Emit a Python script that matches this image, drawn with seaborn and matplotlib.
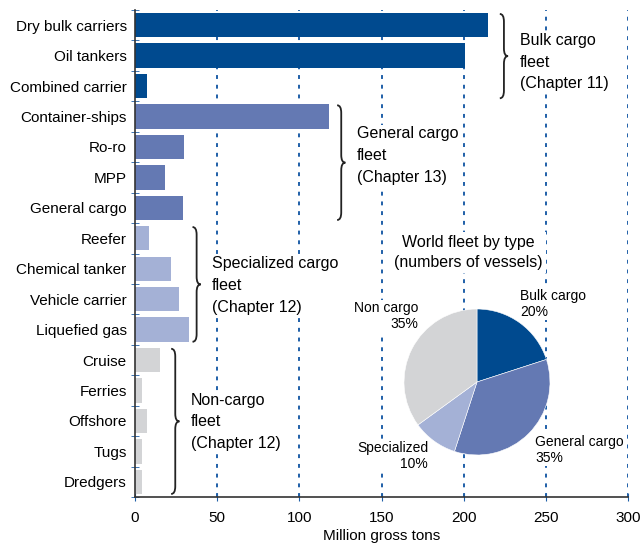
import numpy as np
import pandas as pd
import matplotlib
matplotlib.use("Agg")
import matplotlib.pyplot as plt
from matplotlib.path import Path
from matplotlib.patches import PathPatch
import seaborn as sns

# Datos
categorias = ["Dry bulk carriers", "Oil tankers", "Combined carrier",
              "Container-ships", "Ro-ro", "MPP", "General cargo",
              "Reefer", "Chemical tanker", "Vehicle carrier", "Liquefied gas",
              "Cruise", "Ferries", "Offshore", "Tugs", "Dredgers"]
toneladas = [215, 201, 7, 118, 30, 18, 29, 8.5, 22, 26.5, 33, 15, 4.5, 7.5, 4, 4]
grupos = ["bulk"] * 3 + ["general"] * 4 + ["special"] * 4 + ["non"] * 5

grupo_textos = ["Bulk cargo\nfleet\n(Chapter 11)",
                "General cargo\nfleet\n(Chapter 13)",
                "Specialized cargo\nfleet\n(Chapter 12)",
                "Non-cargo\nfleet\n(Chapter 12)"]

pie_etiquetas = ["Bulk cargo\n20%", "General cargo\n35%", "Specialized\n10%", "Non cargo\n35%"]
pie_valores = [20, 35, 10, 35]

colores = {"bulk": "#004a8f", "general": "#6479b3", "special": "#a4b1d6", "non": "#d3d4d6"}
azul = "#1f5fa8"

df = pd.DataFrame({"cat": categorias, "val": toneladas, "grupo": grupos})

plt.rcParams["font.family"] = ["Liberation Sans", "DejaVu Sans"]
fig = plt.figure(figsize=(6.43, 5.47), dpi=100)
ax = fig.add_axes([135 / 643, 1 - 497 / 547, 493 / 643, 487 / 547])

sns.barplot(data=df, x="val", y="cat", hue="grupo", palette=colores, dodge=False,
            legend=False, width=0.8, ax=ax, saturation=1, zorder=2)

ax.set_xlim(0, 300)
ax.set_ylim(15.5, -0.5)
ax.set_xticks(np.arange(0, 301, 50))
ax.set_xlabel("Million gross tons", fontsize=11, labelpad=3)
ax.set_ylabel("")
ax.tick_params(axis="x", direction="inout", length=6, color=azul, labelsize=11, pad=7)
ax.tick_params(axis="y", which="major", length=0, labelsize=11, pad=6)
ax.set_yticks(np.arange(-0.5, 16, 1), minor=True)
ax.tick_params(axis="y", which="minor", direction="inout", length=6, color=azul)
for s in ["top", "right"]:
    ax.spines[s].set_visible(False)
for s in ["left", "bottom"]:
    ax.spines[s].set_color("#333333")
    ax.spines[s].set_linewidth(1.2)

# rejilla punteada
for xv in range(50, 301, 50):
    ax.axvline(xv, color=azul, linestyle=(0, (2, 3)), linewidth=1.4, zorder=1)


def llave(ax, x, y0, y1, w, r=0.25):
    ym = (y0 + y1) / 2
    xm = x + w / 2
    verts = [(x, y0), (xm, y0), (xm, y0 + r), (xm, ym - r), (xm, ym), (x + w, ym),
             (xm, ym), (xm, ym + r), (xm, y1 - r), (xm, y1), (x, y1)]
    codes = [Path.MOVETO, Path.CURVE3, Path.CURVE3, Path.LINETO, Path.CURVE3, Path.CURVE3,
             Path.CURVE3, Path.CURVE3, Path.LINETO, Path.CURVE3, Path.CURVE3]
    ax.add_patch(PathPatch(Path(verts, codes), fill=False, lw=1.3, color="#222222", zorder=4))


llave_x = [222, 123, 35, 22]
inicio = [0, 3, 7, 11]
fin = [2, 6, 10, 15]
texto_y = [1.22, 4.28, 8.55, 13.03]
for bx, a, b, ty, txt in zip(llave_x, inicio, fin, texto_y, grupo_textos):
    llave(ax, bx, a - 0.37, b + 0.4, 5)
    ax.text(bx + 12, ty, txt, fontsize=11.5, va="center", ha="left",
            linespacing=1.55, zorder=5,
            bbox=dict(facecolor="white", edgecolor="none", pad=1))

# titulo del pastel
ax.text(203, 7.47, "World fleet by type\n(numbers of vessels)", fontsize=11.5, ha="center",
        va="center", linespacing=1.45, zorder=5,
        bbox=dict(facecolor="white", edgecolor="none", pad=2))

# pastel
pax = fig.add_axes([(477 - 76) / 643, 1 - (382 + 76) / 547, 152 / 643, 152 / 547])
pax.pie(pie_valores, colors=[colores[g] for g in ["bulk", "general", "special", "non"]],
        startangle=90, counterclock=False, radius=73 / 76,
        wedgeprops=dict(edgecolor="white", linewidth=0.4))
pax.set_aspect("equal")
pax.set_xlim(-1, 1)
pax.set_ylim(-1, 1)

fig.text(520 / 643, 1 - 304 / 547, pie_etiquetas[0], fontsize=10, ha="left", va="center", linespacing=1.15,
         bbox=dict(facecolor="white", edgecolor="none", pad=1))
fig.text(535 / 643, 1 - 450 / 547, pie_etiquetas[1], fontsize=10, ha="left", va="center", linespacing=1.15,
         bbox=dict(facecolor="white", edgecolor="none", pad=1))
fig.text(428 / 643, 1 - 456 / 547, pie_etiquetas[2], fontsize=10, ha="right", va="center", linespacing=1.15,
         multialignment="right", bbox=dict(facecolor="white", edgecolor="none", pad=1))
fig.text(418 / 643, 1 - 316 / 547, pie_etiquetas[3], fontsize=10, ha="right", va="center", linespacing=1.15,
         multialignment="right", bbox=dict(facecolor="white", edgecolor="none", pad=1))

fig.savefig("out.png", dpi=100)
